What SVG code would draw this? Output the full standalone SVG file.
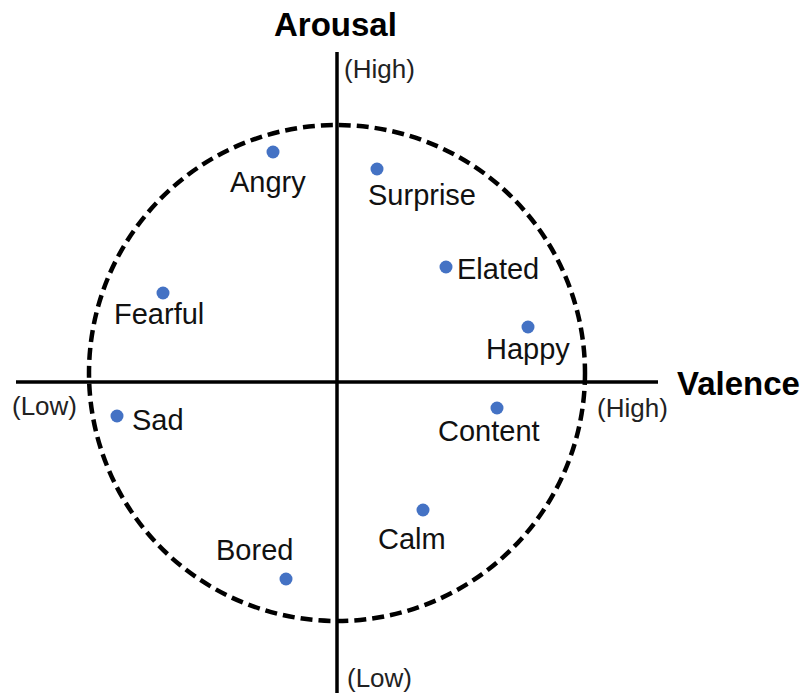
<svg xmlns="http://www.w3.org/2000/svg" width="805" height="693" viewBox="0 0 805 693">
<style>
.ax{stroke:#000;stroke-width:3.5;fill:none}
.ring{stroke:#000;stroke-width:4.5;fill:none;stroke-dasharray:12 6}
.dot{fill:#4472C4}
.lbl{font-family:"Liberation Sans",Arial,sans-serif;font-size:29px;fill:#111}
.end{font-family:"Liberation Sans",Arial,sans-serif;font-size:26px;fill:#222}
.ttl{font-family:"Liberation Sans",Arial,sans-serif;font-size:33px;font-weight:bold;fill:#000}
</style>
<rect width="805" height="693" fill="#fff"/>
<g id="connectors">
<circle class="ring" cx="337" cy="373" r="248"/>
<line class="ax" x1="337" y1="52" x2="337" y2="693"/>
<line class="ax" x1="16" y1="382" x2="658" y2="382"/>
</g>
<g id="axis-labels">
<text class="ttl" x="274" y="36">Arousal</text>
<text class="ttl" x="677" y="395">Valence</text>
<text class="end" x="344" y="78">(High)</text>
<text class="end" x="347" y="687">(Low)</text>
<text class="end" x="12" y="415">(Low)</text>
<text class="end" x="597" y="417">(High)</text>
</g>
<g id="angry"><circle class="dot" cx="273" cy="152" r="6.5"/><text class="lbl" x="230" y="192">Angry</text></g>
<g id="surprise"><circle class="dot" cx="377" cy="169" r="6.5"/><text class="lbl" x="368" y="205">Surprise</text></g>
<g id="elated"><circle class="dot" cx="446" cy="267" r="6.5"/><text class="lbl" x="457" y="279">Elated</text></g>
<g id="fearful"><circle class="dot" cx="163" cy="293" r="6.5"/><text class="lbl" x="114" y="324">Fearful</text></g>
<g id="happy"><circle class="dot" cx="528" cy="327" r="6.5"/><text class="lbl" x="486" y="359">Happy</text></g>
<g id="sad"><circle class="dot" cx="117" cy="416" r="6.5"/><text class="lbl" x="132" y="430">Sad</text></g>
<g id="content"><circle class="dot" cx="497" cy="408" r="6.5"/><text class="lbl" x="438" y="441">Content</text></g>
<g id="calm"><circle class="dot" cx="423" cy="510" r="6.5"/><text class="lbl" x="378" y="549">Calm</text></g>
<g id="bored"><circle class="dot" cx="286" cy="579" r="6.5"/><text class="lbl" x="216" y="560">Bored</text></g>
</svg>
